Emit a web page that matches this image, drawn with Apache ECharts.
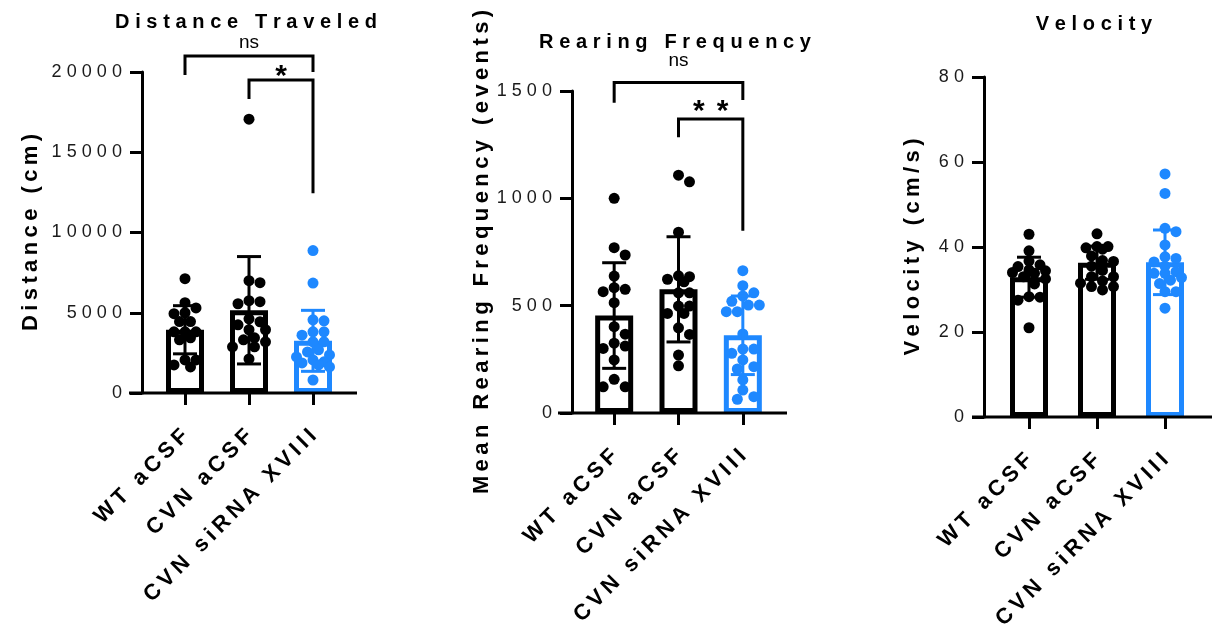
<!DOCTYPE html>
<html>
<head>
<meta charset="utf-8">
<script src="https://cdn.jsdelivr.net/npm/echarts@6/dist/echarts.min.js"></script>
<style>
  html, body { margin: 0; padding: 0; background: #fff; }
  #chart { width: 1220px; height: 635px; }
</style>
</head>
<body>
<div id="chart"></div>
<script>
const categories = ['WT aCSF', 'CVN aCSF', 'CVN siRNA XVIII']
const groupColors = ['#000000', '#000000', '#1E88FF']

// Distance Traveled (cm)
const distWT = [7125, 5625, 5300, 5000, 4940, 4450, 4450, 3810, 3810, 3810, 3440, 3310, 2060, 2060, 1625, 1750]
const distCVN = [17060, 7000, 6875, 5750, 5690, 5560, 4625, 4440, 4250, 3940, 3940, 3440, 3310, 3190, 2875, 2875, 2125]
const distSi = [8875, 6850, 4560, 4500, 3810, 3810, 3600, 3190, 3190, 2690, 2560, 2375, 2250, 2060, 1940, 1875, 1750, 1625, 810]
const distMean = [3940, 5155, 3250]
const distSD = [1500, 3345, 1900]
const distBrackets = [[0, 2, 21000, 19810, 20000], [1, 2, 19500, 18310, 12440]]
const distMarks = ['ns', '*']
const distMarkY = [21800, 19690]

// Rearing frequency (events)
const rearWT = [1000, 770, 736, 638, 576, 584, 565, 514, 402, 367, 325, 301, 312, 247, 157, 122, 122]
const rearCVN = [1108, 1077, 842, 639, 635, 623, 611, 560, 560, 498, 498, 464, 464, 397, 366, 270, 220]
const rearSi = [663, 593, 560, 545, 520, 503, 503, 472, 472, 368, 298, 298, 278, 247, 216, 205, 154, 107, 76, 64]
const rearMean = [454, 576, 362]
const rearSD = [246, 245, 183]
const rearBrackets = [[0, 2, 1540, 1445, 1458], [1, 2, 1369, 1284, 849]]
const rearMarks = ['ns', '**']
const rearMarkY = [1640, 1402]

// Velocity (cm/s)
const velWT = [43.0, 39.1, 36.7, 35.8, 35.4, 34.6, 34.4, 34.0, 33.8, 33.0, 32.5, 31.3, 28.3, 28.2, 27.5, 21.0]
const velCVN = [43.1, 40.1, 40.1, 39.8, 39.5, 37.9, 36.8, 36.6, 35.5, 34.5, 33.0, 33.0, 32.0, 31.5, 30.7, 30.7, 29.9]
const velSi = [57.2, 52.6, 44.4, 43.6, 40.5, 37.7, 37.3, 36.5, 35.5, 34.2, 33.8, 33.8, 32.8, 32.2, 31.4, 29.5, 29.5, 25.6]
const velMean = [32.9, 36.3, 36.4]
const velSD = [4.7, 3.9, 7.6]

const yTicks = [[0, 5000, 10000, 15000, 20000], [0, 500, 1000, 1500], [0, 20, 40, 60, 80]]

const font = '"Liberation Sans", Arial, sans-serif'
const gapThin = '\u2009'
const gapMid = '\u2009\u200a'
const sp = (s, g) => Array.from(String(s)).join(g)

const panels = [
  {
    title: 'Distance Traveled', titleTop: 7, titleX: 241,
    yName: 'Distance (cm)', nameGap: 100,
    left: 153, top: 72, width: 192, height: 321, yOffset: 11, lineX: [129, 357],
    groups: [distWT, distCVN, distSi], mean: distMean, sd: distSD, ticks: yTicks[0],
    brackets: distBrackets, marks: distMarks, markY: distMarkY
  },
  {
    title: 'Rearing Frequency', titleTop: 27, titleX: 670,
    yName: 'Mean Rearing Frequency (events)', nameGap: 78,
    left: 582, top: 91, width: 193, height: 322, yOffset: 10, lineX: [558, 787],
    groups: [rearWT, rearCVN, rearSi], mean: rearMean, sd: rearSD, ticks: yTicks[1],
    brackets: rearBrackets, marks: rearMarks, markY: rearMarkY
  },
  {
    title: 'Velocity', titleTop: 9, titleX: 1089,
    yName: 'Velocity (cm/s)', nameGap: 60,
    left: 995, top: 77, width: 204, height: 340, yOffset: 11, lineX: [972, 1212],
    groups: [velWT, velCVN, velSi], mean: velMean, sd: velSD, ticks: yTicks[2],
    brackets: [], marks: [], markY: []
  }
]

// simple beeswarm so dots spread sideways like the original scatter
function swarm(vals, idx, pxPerUnit, bandPx) {
  const d = 11
  const maxOff = 17
  const placed = []
  const out = []
  const cands = [0]
  for (let k = 1; k * 5.5 <= maxOff; k++) cands.push(k * 5.5, -k * 5.5)
  const order = vals.map((v, i) => i).sort((a, b) => vals[b] - vals[a])
  order.forEach(i => {
    const y = vals[i] * pxPerUnit
    let best = null, bestDist = -1
    for (const off of cands) {
      const dist = placed.reduce((m, p) => Math.min(m, Math.hypot(p[0] - off, p[1] - y)), Infinity)
      if (dist >= d * 0.85) { best = off; break }
      if (dist > bestDist) { bestDist = dist; best = off }
    }
    placed.push([best, y])
    out[i] = [idx + best / bandPx, vals[i]]
  })
  return out
}

const chart = echarts.init(document.getElementById('chart'), null, { renderer: 'canvas' })

const xAxis = []
const yAxis = []
const series = []
const graphic = []

panels.forEach((p, pi) => {
  const yMin = p.ticks[0]
  const yMax = p.ticks[p.ticks.length - 1]
  const interval = p.ticks[1] - p.ticks[0]
  const pxPerUnit = p.height / (yMax - yMin)
  const bandPx = p.width / 3

  xAxis.push({
    type: 'category', gridIndex: pi, data: categories,
    axisLine: { show: false, onZero: false },
    axisTick: { show: true, alignWithLabel: true, length: 12, lineStyle: { color: '#000', width: 3 } },
    axisLabel: {
      rotate: 45, margin: 40, color: '#000', fontFamily: font, fontSize: 22, fontWeight: 'bold',
      formatter: v => sp(v, gapThin)
    },
    splitLine: { show: false }
  })
  xAxis.push({ type: 'value', gridIndex: pi, min: -0.5, max: 2.5, show: false })

  yAxis.push({
    type: 'value', gridIndex: pi, min: yMin, max: yMax, interval: interval, offset: p.yOffset,
    name: sp(p.yName, gapThin), nameLocation: 'middle', nameGap: p.nameGap,
    nameTextStyle: { color: '#000', fontFamily: font, fontSize: 22, fontWeight: 'bold' },
    axisLine: { show: true, onZero: false, lineStyle: { color: '#000', width: 3 } },
    axisTick: { show: true, length: 12, lineStyle: { color: '#000', width: 3 } },
    axisLabel: { margin: 20, color: '#1a1a1a', fontFamily: font, fontSize: 18, formatter: v => sp(v, gapMid) },
    splitLine: { show: false }
  })

  series.push({
    type: 'bar', xAxisIndex: pi * 2, yAxisIndex: pi, barWidth: 38, z: 2,
    data: p.mean.map((m, i) => ({
      value: m,
      itemStyle: { color: '#fff', borderColor: groupColors[i], borderWidth: 5 }
    }))
  })

  p.groups.forEach((vals, gi) => {
    series.push({
      type: 'scatter', xAxisIndex: pi * 2 + 1, yAxisIndex: pi, z: 3,
      symbol: 'circle', symbolSize: 11,
      itemStyle: { color: groupColors[gi], opacity: 1 },
      data: swarm(vals, gi, pxPerUnit, bandPx)
    })
  })

  series.push({
    type: 'custom', xAxisIndex: pi * 2 + 1, yAxisIndex: pi, z: 4, clip: false,
    encode: { x: 0, y: 1 },
    data: p.mean.map((m, i) => [i, m, p.sd[i]]),
    renderItem: (params, api) => {
      const x = api.value(0), m = api.value(1), s = api.value(2)
      const t = api.coord([x, m + s])
      const b = api.coord([x, m - s])
      const style = { stroke: groupColors[x], lineWidth: 3 }
      return {
        type: 'group',
        children: [
          { type: 'line', shape: { x1: t[0], y1: t[1], x2: b[0], y2: b[1] }, style },
          { type: 'line', shape: { x1: t[0] - 12, y1: t[1], x2: t[0] + 12, y2: t[1] }, style },
          { type: 'line', shape: { x1: b[0] - 12, y1: b[1], x2: b[0] + 12, y2: b[1] }, style }
        ]
      }
    }
  })

  if (p.brackets.length) {
    series.push({
      type: 'custom', xAxisIndex: pi * 2 + 1, yAxisIndex: pi, z: 5, clip: false,
      encode: { x: [0, 1], y: [2, 3, 4] },
      data: p.brackets,
      renderItem: (params, api) => {
        const from = api.value(0), to = api.value(1)
        const a = api.coord([from, api.value(2)])
        const b = api.coord([to, api.value(2)])
        const la = api.coord([from, api.value(3)])
        const rb = api.coord([to, api.value(4)])
        const mk = api.coord([(from + to) / 2, p.markY[params.dataIndex]])
        const mark = p.marks[params.dataIndex]
        const star = mark.indexOf('*') >= 0
        return {
          type: 'group',
          children: [
            {
              type: 'polyline',
              shape: { points: [[a[0], la[1]], a, b, [b[0], rb[1]]] },
              style: { stroke: '#000', lineWidth: 3, fill: null }
            },
            {
              type: 'text', x: mk[0], y: mk[1],
              style: {
                text: star ? sp(mark, '\u2009\u2009') : mark,
                fill: '#000', font: (star ? 'bold 30px ' : '19px ') + font,
                align: 'center', verticalAlign: 'middle',
                textAlign: 'center', textVerticalAlign: 'middle'
              }
            }
          ]
        }
      }
    })
  }

  graphic.push({
    type: 'line', z: 10,
    shape: { x1: p.lineX[0], y1: p.top + p.height, x2: p.lineX[1], y2: p.top + p.height },
    style: { stroke: '#000', lineWidth: 3 }
  })
})

chart.setOption({
  animation: false,
  backgroundColor: '#fff',
  title: panels.map(p => ({
    text: sp(p.title, gapMid), left: p.titleX, top: p.titleTop, textAlign: 'center',
    textStyle: { color: '#000', fontFamily: font, fontSize: 20, fontWeight: 'bold' }
  })),
  grid: panels.map(p => ({ left: p.left, top: p.top, width: p.width, height: p.height })),
  xAxis,
  yAxis,
  series,
  graphic
})
</script>
</body>
</html>
